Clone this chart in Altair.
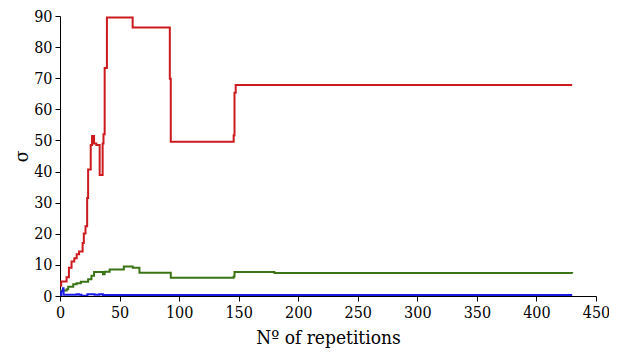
import altair as alt
import pandas as pd

red_x = [0, 1, 5.5, 7.5, 9.7, 12, 14, 16, 19, 20, 21.4, 22.8, 23.6, 25.8, 26.9, 28.6, 30.5, 33.3, 35.8, 36.5, 37.5, 39.4, 61, 92.2, 93, 145.8, 146.5, 147.5, 430]
red_y = [3.3, 4.7, 6.0, 9.1, 11.1, 12.1, 13.4, 14.3, 17.0, 20.1, 22.4, 31.5, 40.7, 48.5, 51.4, 49.0, 48.5, 38.9, 49.0, 52.0, 73.3, 89.5, 86.3, 69.8, 49.6, 51.7, 65.3, 67.8, 67.8]

green_x = [0, 5.6, 6.9, 11.1, 13.9, 17.5, 23.6, 26.4, 28.6, 36.1, 37.5, 41.7, 53.6, 61.1, 66.7, 93, 145.8, 146.5, 180, 430]
green_y = [1.8, 2.2, 3.0, 3.8, 4.1, 4.6, 5.4, 6.5, 7.7, 7.0, 7.8, 8.5, 9.5, 9.1, 7.5, 5.9, 6.3, 7.7, 7.4, 7.2]

blue_x = [0, 1, 2.5, 3, 14, 16, 18, 23, 29, 33, 36, 430]
blue_y = [0.0, 1.5, 2.5, 0.4, 0.6, 0.4, 0.05, 0.6, 0.4, 0.6, 0.3, 0.3]

rows = []
for name, xs, ys in [("red", red_x, red_y), ("green", green_x, green_y), ("blue", blue_x, blue_y)]:
    for i, (x, y) in enumerate(zip(xs, ys)):
        rows.append({"series": name, "n": x, "sigma": y, "order": i})
df = pd.DataFrame(rows)

font = "DejaVu Serif Condensed"

chart = alt.Chart(df).mark_line(interpolate="step-after", strokeWidth=2, clip=True).encode(
    x=alt.X("n:Q", scale=alt.Scale(domain=[0, 450], nice=False),
            axis=alt.Axis(title="Nº of repetitions", values=list(range(0, 451, 50)), grid=False,
                          labelFontSize=16, labelColor="black",
                          titleFontSize=19, titleFontWeight="normal", titleColor="black",
                          domainColor="black", tickColor="black", tickSize=5, labelPadding=3, titlePadding=8,
                          labelFlush=False)),
    y=alt.Y("sigma:Q", scale=alt.Scale(domain=[0, 90], nice=False),
            axis=alt.Axis(title="σ", values=list(range(0, 91, 10)), grid=False,
                          labelFontSize=16, labelColor="black",
                          titleFontSize=19, titleFontWeight="normal", titleColor="black",
                          domainColor="black", tickColor="black", tickSize=5, labelPadding=3, titlePadding=2,
                          labelFlush=False)),
    color=alt.Color("series:N", scale=alt.Scale(domain=["red", "green", "blue"],
                                                range=["#cc1a1f", "#3b7416", "#1a1ae6"]), legend=None),
    order="order:Q",
    detail="series:N",
).properties(
    width=536, height=280,
    autosize=alt.AutoSizeParams(type="none"),
    padding={"left": 52, "top": 8, "right": 13, "bottom": 55},
    background="white",
).configure(font=font).configure_axis(labelFont=font, titleFont=font).configure_view(stroke=None)

chart.save("out.html", embed_options={"renderer": "svg", "actions": False})
